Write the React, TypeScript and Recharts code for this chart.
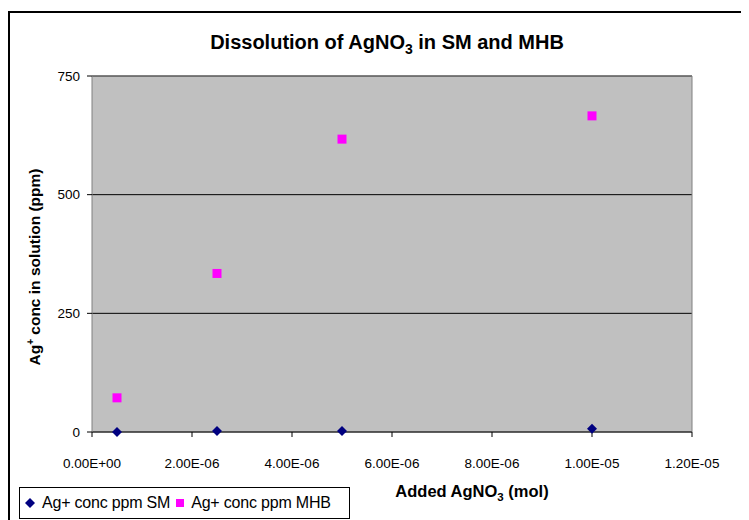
import React from 'react';
import {
  ScatterChart,
  Scatter,
  XAxis,
  YAxis,
  CartesianGrid,
  ReferenceLine,
} from 'recharts';

// values
const addedMol = [5e-7, 2.5e-6, 5e-6, 1e-5];
const smPpm = [0, 2, 2, 7];
const mhbPpm = [72, 334, 617, 666];
const xTicks = [0, 2e-6, 4e-6, 6e-6, 8e-6, 1e-5, 1.2e-5];
const yTicks = [0, 250, 500, 750];
const seriesNames = ['Ag+ conc ppm SM', 'Ag+ conc ppm MHB'];

const smData = addedMol.map((x, i) => ({ x, y: smPpm[i] }));
const mhbData = addedMol.map((x, i) => ({ x, y: mhbPpm[i] }));

const FONT = '"Liberation Sans", Arial, sans-serif';
const NAVY = '#000080';
const MAGENTA = '#FF00FF';

const sciFormat = (v: number) => {
  const [m, e] = v.toExponential(2).split('e');
  const n = parseInt(e, 10);
  const sign = n < 0 ? '-' : '+';
  return `${m}E${sign}${String(Math.abs(n)).padStart(2, '0')}`;
};

const Diamond = (props: any) => {
  const { cx, cy } = props;
  const r = 5;
  return (
    <polygon
      points={`${cx},${cy - r} ${cx + r},${cy} ${cx},${cy + r} ${cx - r},${cy}`}
      fill={NAVY}
    />
  );
};

const Square = (props: any) => {
  const { cx, cy } = props;
  return <rect x={cx - 4.5} y={cy - 4.5} width={9} height={9} fill={MAGENTA} />;
};

const LegendBox = () => (
  <div
    style={{
      position: 'absolute',
      left: 11,
      top: 479,
      border: '1px solid #000',
      width: 331,
      height: 32,
      boxSizing: 'border-box',
      display: 'flex',
      alignItems: 'center',
      fontFamily: FONT,
      fontSize: 16,
      letterSpacing: '-0.2px',
      background: '#fff',
    }}
  >
    <svg width={14} height={12} style={{ marginLeft: 4 }}>
      <polygon points="6,1 11,6 6,11 1,6" fill={NAVY} />
    </svg>
    <span style={{ marginLeft: 4 }}>{seriesNames[0]}</span>
    <svg width={10} height={10} style={{ marginLeft: 5 }}>
      <rect x={1} y={1} width={8} height={8} fill={MAGENTA} />
    </svg>
    <span style={{ marginLeft: 6 }}>{seriesNames[1]}</span>
  </div>
);

export default function App() {
  return (
    <div
      style={{
        position: 'relative',
        width: 741,
        height: 512,
        overflow: 'hidden',
        fontFamily: FONT,
        background: '#fff',
      }}
    >
      <div
        style={{
          position: 'absolute',
          left: 0,
          top: 3,
          width: 800,
          height: 600,
          borderLeft: '2px solid #000',
          borderTop: '2px solid #000',
        }}
      />

      <div
        style={{
          position: 'absolute',
          left: 379,
          top: 23.5,
          transform: 'translateX(-50%)',
          whiteSpace: 'nowrap',
          fontSize: 20,
          lineHeight: '20px',
          fontWeight: 'bold',
        }}
      >
        Dissolution of AgNO<sub style={{ fontSize: 14, lineHeight: 0 }}>3</sub> in SM and MHB
      </div>

      <ScatterChart
        width={741}
        height={512}
        margin={{ top: 68, right: 57, bottom: 0, left: 0 }}
        style={{ position: 'absolute', left: 0, top: 0 }}
      >
        <CartesianGrid vertical={false} stroke="#000" fill="#C0C0C0" />
        <XAxis
          type="number"
          dataKey="x"
          domain={[0, 1.2e-5]}
          ticks={xTicks}
          tickFormatter={sciFormat}
          height={88}
          tickSize={5}
          tickMargin={21}
          stroke="#000"
          axisLine={{ stroke: '#404040' }}
          tick={{ fill: '#000', fontSize: 13.5, fontFamily: FONT }}
          interval={0}
        />
        <YAxis
          type="number"
          dataKey="y"
          domain={[0, 750]}
          ticks={yTicks}
          width={84}
          tickSize={5}
          tickMargin={7}
          stroke="#000"
          axisLine={{ stroke: '#808080' }}
          tick={{ fill: '#000', fontSize: 13.5, fontFamily: FONT }}
          interval={0}
        />
        <ReferenceLine y={750} stroke="#808080" />
        <ReferenceLine x={1.2e-5} stroke="#808080" />
        <Scatter
          name={seriesNames[0]}
          data={smData}
          shape={Diamond}
          fill={NAVY}
          isAnimationActive={false}
        />
        <Scatter
          name={seriesNames[1]}
          data={mhbData}
          shape={Square}
          fill={MAGENTA}
          isAnimationActive={false}
        />
      </ScatterChart>

      <LegendBox />

      <div
        style={{
          position: 'absolute',
          left: 464,
          top: 474.5,
          transform: 'translateX(-50%)',
          whiteSpace: 'nowrap',
          fontSize: 16.5,
          lineHeight: '16.5px',
          fontWeight: 'bold',
        }}
      >
        Added AgNO<sub style={{ fontSize: 11.5, lineHeight: 0 }}>3</sub> (mol)
      </div>

      <div
        style={{
          position: 'absolute',
          left: 27,
          top: 259,
          transform: 'translate(-50%, -50%) rotate(-90deg)',
          whiteSpace: 'nowrap',
          fontSize: 15.5,
          lineHeight: '15.5px',
          fontWeight: 'bold',
        }}
      >
        Ag<sup style={{ fontSize: 10, lineHeight: 0 }}>+</sup> conc in solution (ppm)
      </div>
    </div>
  );
}
